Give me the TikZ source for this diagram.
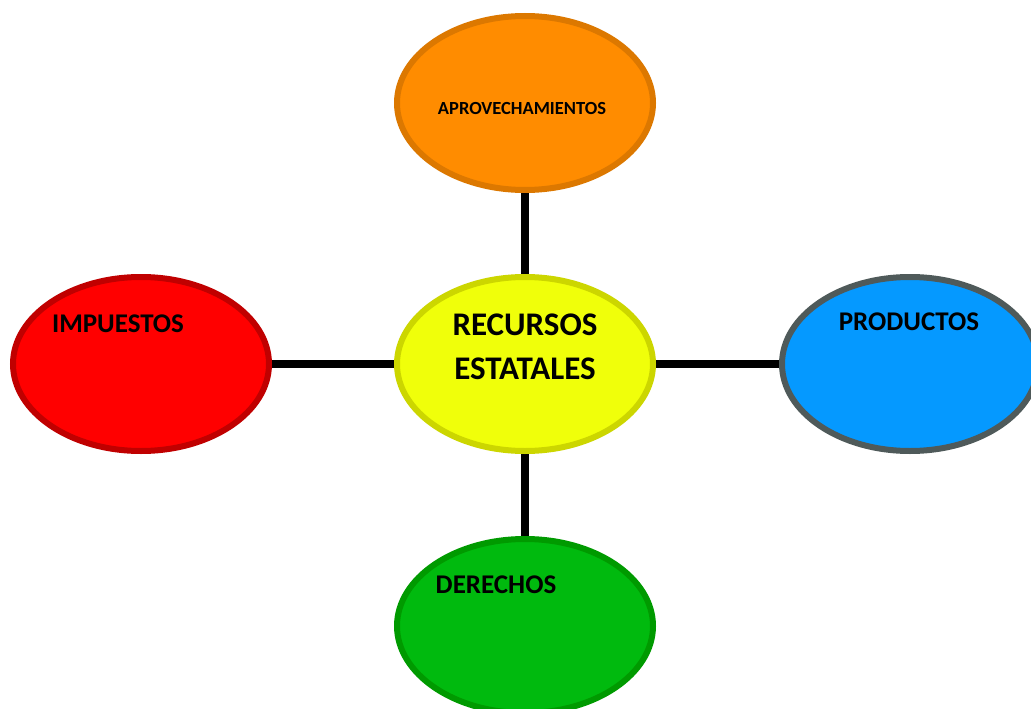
\documentclass[tikz,border=0pt]{standalone}
\usepackage{fontspec}
\setmainfont{Carlito}
\usetikzlibrary{shapes.geometric, backgrounds}

\definecolor{amarillo}{HTML}{F0FF0A}
\definecolor{amarilloB}{HTML}{CCD600}
\definecolor{naranja}{HTML}{FF8C00}
\definecolor{naranjaB}{HTML}{DC7800}
\definecolor{rojo}{HTML}{FF0000}
\definecolor{rojoB}{HTML}{C00000}
\definecolor{azul}{HTML}{0599FF}
\definecolor{azulB}{HTML}{4F5A5A}
\definecolor{verde}{HTML}{00BA0E}
\definecolor{verdeB}{HTML}{009A00}

\tikzset{
    globo/.style = {ellipse, draw, line width=6pt, minimum width=256pt,
        minimum height=174pt, inner sep=0pt},
    rotulo/.style = {anchor=base, font=\bfseries, inner sep=0pt},
    enlace/.style = {line width=7.5pt}
}

\begin{document}
\begin{tikzpicture}[x=1pt, y=-1pt]
    \useasboundingbox (0,0) rectangle (1031,709);
    % elipses
    \node[globo, draw=amarilloB, fill=amarillo] (rec) at (525,364) {};
    \node[globo, draw=naranjaB, fill=naranja] (apr) at (525,103) {};
    \node[globo, draw=rojoB, fill=rojo] (imp) at (141,364) {};
    \node[globo, draw=azulB, fill=azul] (pro) at (910,364) {};
    \node[globo, draw=verdeB, fill=verde] (der) at (525,626) {};
    % enlaces
    \begin{scope}[on background layer]
        \draw[enlace] (rec) -- (apr);
        \draw[enlace] (rec) -- (imp);
        \draw[enlace] (rec) -- (pro);
        \draw[enlace] (rec) -- (der);
    \end{scope}
    % textos
    \node[rotulo, align=center, font=\bfseries\fontsize{33}{44}\selectfont] (trec) at (525,379) {RECURSOS\\ESTATALES};
    \node[rotulo, font=\bfseries\fontsize{18.5}{22}\selectfont] (tapr) at (522,114) {APROVECHAMIENTOS};
    \node[rotulo, font=\bfseries\fontsize{27}{32}\selectfont] (timp) at (118,332) {IMPUESTOS};
    \node[rotulo, font=\bfseries\fontsize{27}{32}\selectfont] (tpro) at (909,330) {PRODUCTOS};
    \node[rotulo, font=\bfseries\fontsize{27}{32}\selectfont] (tder) at (496,593) {DERECHOS};
\end{tikzpicture}
\end{document}
